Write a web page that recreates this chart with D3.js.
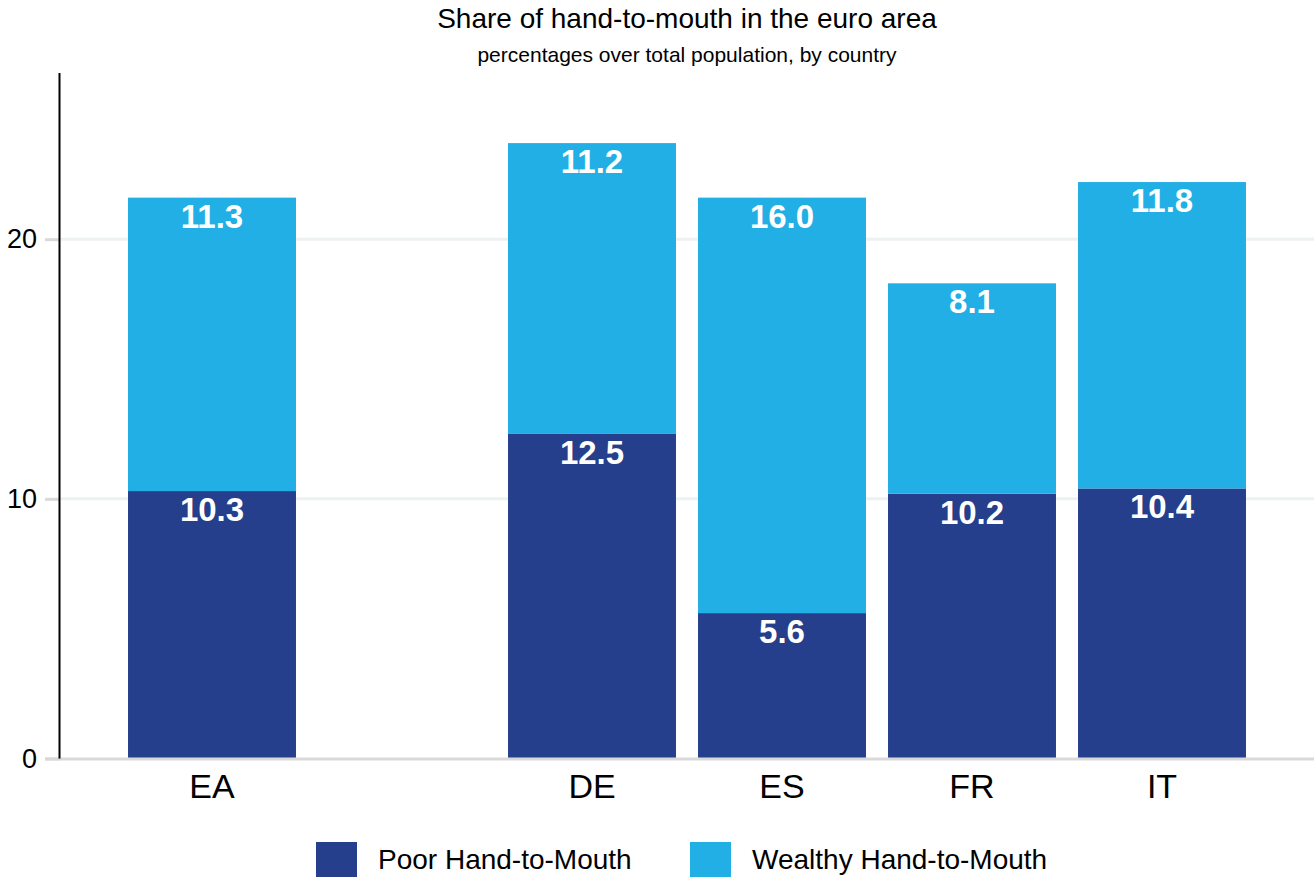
<!DOCTYPE html>
<html>
<head>
<meta charset="utf-8">
<script src="https://cdn.jsdelivr.net/npm/d3@7"></script>
<style>
  html, body { margin: 0; padding: 0; background: #fff; }
  svg { display: block; font-family: "Liberation Sans", Arial, Helvetica, sans-serif; }
</style>
</head>
<body>
<svg id="chart" width="1315" height="878"></svg>
<script>
// Country slots; the blank slot separates the euro-area aggregate from the countries
const categories = ["EA", "", "DE", "ES", "FR", "IT"];
const poorHtM    = [10.3, null, 12.5, 5.6, 10.2, 10.4];
const wealthyHtM = [11.3, null, 11.2, 16.0, 8.1, 11.8];
const seriesNames = ["Poor Hand-to-Mouth", "Wealthy Hand-to-Mouth"];
const yTicks = [0, 10, 20];

const colors = { poor: "#253f8c", wealthy: "#21afe5" };

const svg = d3.select("#chart");
const W = 1315, H = 878;
const margin = { left: 60, right: 1, top: 73, bottom: 119 };
const plotBottom = H - margin.bottom; // y = 0 line

const x = d3.scaleBand()
  .domain(categories.map((c, i) => i))
  .range([margin.left, W - margin.right])
  .paddingInner(0.116)
  .paddingOuter(0.358);

const y = d3.scaleLinear()
  .domain([0, 26.4])
  .range([758.5, margin.top]);

// Title and subtitle
const cx = (margin.left + W - margin.right) / 2;
svg.append("text")
  .attr("x", cx).attr("y", 28)
  .attr("text-anchor", "middle")
  .attr("font-size", 28).attr("fill", "#000")
  .text("Share of hand-to-mouth in the euro area");
svg.append("text")
  .attr("x", cx).attr("y", 62)
  .attr("text-anchor", "middle")
  .attr("font-size", 21).attr("fill", "#000")
  .text("percentages over total population, by country");

// Horizontal gridlines
svg.append("g")
  .selectAll("line")
  .data(yTicks.filter(t => t > 0))
  .join("line")
  .attr("x1", margin.left).attr("x2", W - 1)
  .attr("y1", d => y(d)).attr("y2", d => y(d))
  .attr("stroke", "#ecf2f4").attr("stroke-width", 3);

// Y axis: gray ticks, labels, black axis line
const yAxis = svg.append("g")
  .attr("transform", `translate(${margin.left},0)`)
  .call(d3.axisLeft(y).tickValues(yTicks).tickSize(15).tickPadding(8).tickFormat(d3.format("d")));
yAxis.select(".domain").remove();
yAxis.selectAll(".tick line").attr("stroke", "#d9d9d9").attr("stroke-width", 3);
yAxis.selectAll(".tick text")
  .attr("font-size", 27).attr("fill", "#000")
  .attr("font-family", "Liberation Sans, Arial, sans-serif");

// Stacked bars
const rows = categories.map((c, i) => ({ i, c, poor: poorHtM[i], wealthy: wealthyHtM[i] }))
  .filter(d => d.poor != null);

const bars = svg.append("g");
bars.selectAll("rect.poor")
  .data(rows)
  .join("rect")
  .attr("class", "poor")
  .attr("x", d => x(d.i)).attr("width", x.bandwidth())
  .attr("y", d => y(d.poor)).attr("height", d => y(0) - y(d.poor))
  .attr("fill", colors.poor);
bars.selectAll("rect.wealthy")
  .data(rows)
  .join("rect")
  .attr("class", "wealthy")
  .attr("x", d => x(d.i)).attr("width", x.bandwidth())
  .attr("y", d => y(d.poor + d.wealthy)).attr("height", d => y(d.poor) - y(d.poor + d.wealthy))
  .attr("fill", colors.wealthy);

// Value labels at the top of each segment
const fmt = d3.format(".1f");
const labels = svg.append("g")
  .attr("font-size", 33).attr("font-weight", "bold")
  .attr("fill", "#fff").attr("text-anchor", "middle");
labels.selectAll("text.poor")
  .data(rows)
  .join("text")
  .attr("x", d => x(d.i) + x.bandwidth() / 2)
  .attr("y", d => y(d.poor) + 30)
  .text(d => fmt(d.poor));
labels.selectAll("text.wealthy")
  .data(rows)
  .join("text")
  .attr("x", d => x(d.i) + x.bandwidth() / 2)
  .attr("y", d => y(d.poor + d.wealthy) + 30)
  .text(d => fmt(d.wealthy));

// Baseline
svg.append("line")
  .attr("x1", 45).attr("x2", W - 1)
  .attr("y1", y(0) + 0.5).attr("y2", y(0) + 0.5)
  .attr("stroke", "#d9d9d9").attr("stroke-width", 3);

// Vertical axis line
svg.append("line")
  .attr("x1", margin.left - 0.5).attr("x2", margin.left - 0.5)
  .attr("y1", margin.top).attr("y2", y(0))
  .attr("stroke", "#000").attr("stroke-width", 2);

// Category labels
svg.append("g")
  .selectAll("text")
  .data(categories.map((c, i) => ({ c, i })).filter(d => d.c))
  .join("text")
  .attr("x", d => x(d.i) + x.bandwidth() / 2)
  .attr("y", 798)
  .attr("text-anchor", "middle")
  .attr("font-size", 34).attr("fill", "#000")
  .text(d => d.c);

// Legend
const legendItems = [
  { name: seriesNames[0], color: colors.poor, x: 316 },
  { name: seriesNames[1], color: colors.wealthy, x: 690 }
];
const lg = svg.append("g").selectAll("g").data(legendItems).join("g");
lg.append("rect")
  .attr("x", d => d.x).attr("y", 842)
  .attr("width", 41).attr("height", 35)
  .attr("fill", d => d.color);
lg.append("text")
  .attr("x", d => d.x + 62).attr("y", 869)
  .attr("font-size", 28).attr("fill", "#000")
  .text(d => d.name);
</script>
</body>
</html>
